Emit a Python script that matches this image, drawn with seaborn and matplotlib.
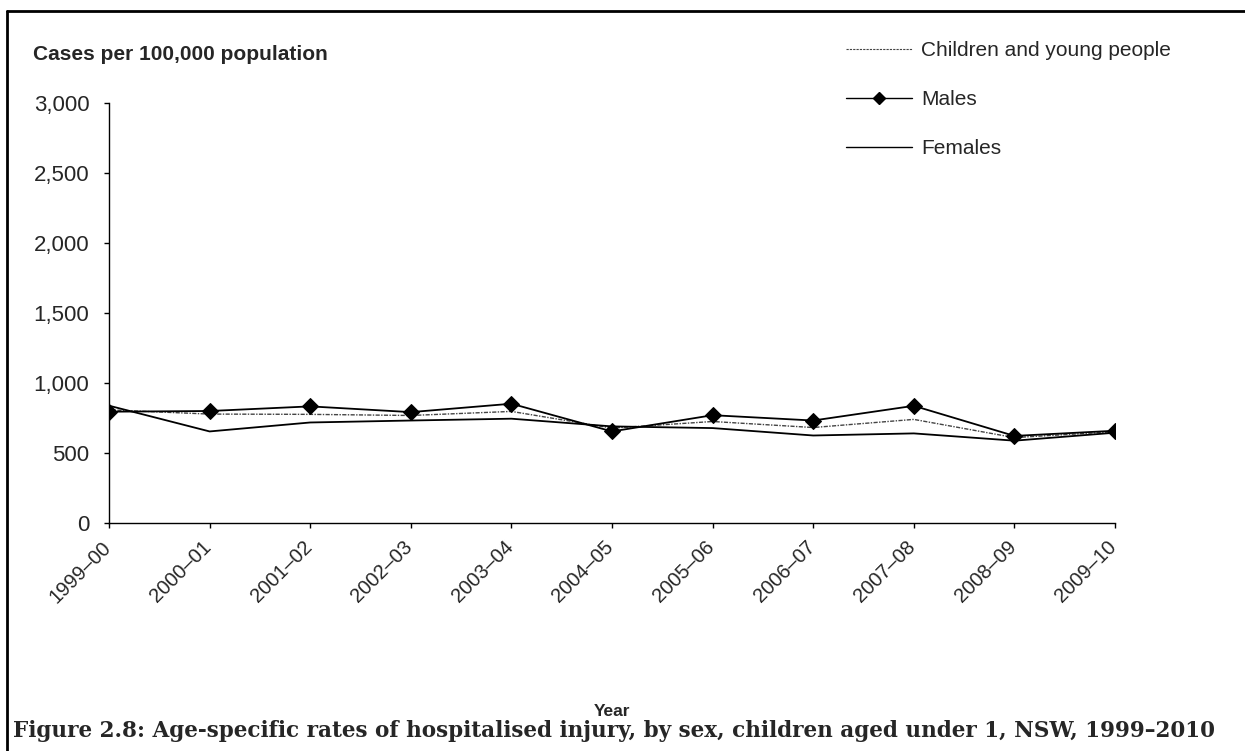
import numpy as np
import pandas as pd
import matplotlib
matplotlib.use("Agg")
import matplotlib.pyplot as plt
import seaborn as sns
from matplotlib.lines import Line2D
from matplotlib.transforms import ScaledTranslation

sns.set_theme(style="white")
plt.rcParams['font.family'] = ['Liberation Sans', 'DejaVu Sans']

years = ["1999\u201300", "2000\u201301", "2001\u201302", "2002\u201303", "2003\u201304",
         "2004\u201305", "2005\u201306", "2006\u201307", "2007\u201308", "2008\u201309",
         "2009\u201310"]
children = [808, 778, 776, 768, 797, 678, 725, 682, 740, 610, 652]
males = [795, 800, 833, 792, 852, 654, 770, 732, 837, 622, 659]
females = [838, 654, 718, 732, 745, 690, 678, 625, 640, 588, 645]
y_ticks = [0, 500, 1000, 1500, 2000, 2500, 3000]

fig = plt.figure(figsize=(12.45, 7.51), dpi=100)
ax = fig.add_axes([109 / 1245, 1 - 523 / 751, (1115 - 109) / 1245, (523 - 103) / 751])

sns.lineplot(x=years, y=children, ax=ax, color="#444444", lw=1.0,
             linestyle=(0, (3, 1, 1, 1)), sort=False)
sns.lineplot(x=years, y=females, ax=ax, color="black", lw=1.3, sort=False)
sns.lineplot(x=years, y=males, ax=ax, color="black", lw=1.3, marker="D",
             markersize=8.5, markeredgecolor="black", sort=False)

ax.set_xlim(0, len(years) - 1)
ax.set_ylim(0, 3000)
ax.set_yticks(y_ticks)
ax.set_yticklabels([f"{v:,}" for v in y_ticks], fontsize=16)
ax.set_xticks(range(len(years)))
ax.set_xticklabels(years, rotation=45, ha="right", rotation_mode="anchor", fontsize=14.5)
ax.tick_params(axis="both", direction="out", length=3.6, width=1, color="black",
               left=True, bottom=True)
ax.tick_params(axis="y", pad=10.5)
ax.tick_params(axis="x", pad=4)
for lbl in ax.get_xticklabels():
    lbl.set_transform(lbl.get_transform() + ScaledTranslation(-0.08, -0.04, fig.dpi_scale_trans))
for side in ["top", "right"]:
    ax.spines[side].set_visible(False)
for side in ["left", "bottom"]:
    ax.spines[side].set_color("black")
    ax.spines[side].set_linewidth(1)

ax.set_xlabel("")
ax.set_ylabel("")
fig.text(33 / 1245, 1 - 55 / 751, "Cases per 100,000 population", fontsize=15,
         fontweight="bold", va="center", ha="left")
fig.text(612 / 1245, 1 - 712 / 751, "Year", fontsize=12.5, fontweight="bold",
         va="center", ha="center")

handles = [
    Line2D([], [], color="#444444", lw=0.8, linestyle=(0, (2, 1))),
    Line2D([], [], color="black", lw=1.0, marker="D", markersize=6),
    Line2D([], [], color="black", lw=1.0),
]
fig.legend(handles, ["Children and young people", "Males", "Females"],
           loc="upper left", bbox_to_anchor=(846 / 1245, 1 - 41 / 751),
           frameon=False, fontsize=15, handlelength=3.15, handletextpad=0.45,
           labelspacing=1.45, borderpad=0, borderaxespad=0)

# outer frame lines (top and left) and caption
fig.add_artist(Line2D([7 / 1245, 1.0], [1 - 11 / 751, 1 - 11 / 751],
                      transform=fig.transFigure, color="black", lw=2))
fig.add_artist(Line2D([7 / 1245, 7 / 1245], [0.0, 1 - 11 / 751],
                      transform=fig.transFigure, color="black", lw=2))
fig.text(13 / 1245, 1 - 737 / 751,
         "Figure 2.8: Age-specific rates of hospitalised injury, by sex, children aged under 1, NSW, 1999\u20132010",
         family=["DejaVu Serif"], fontweight="bold", fontsize=15.5,
         va="baseline", ha="left")

fig.savefig("out.png", dpi=100, facecolor="white")
